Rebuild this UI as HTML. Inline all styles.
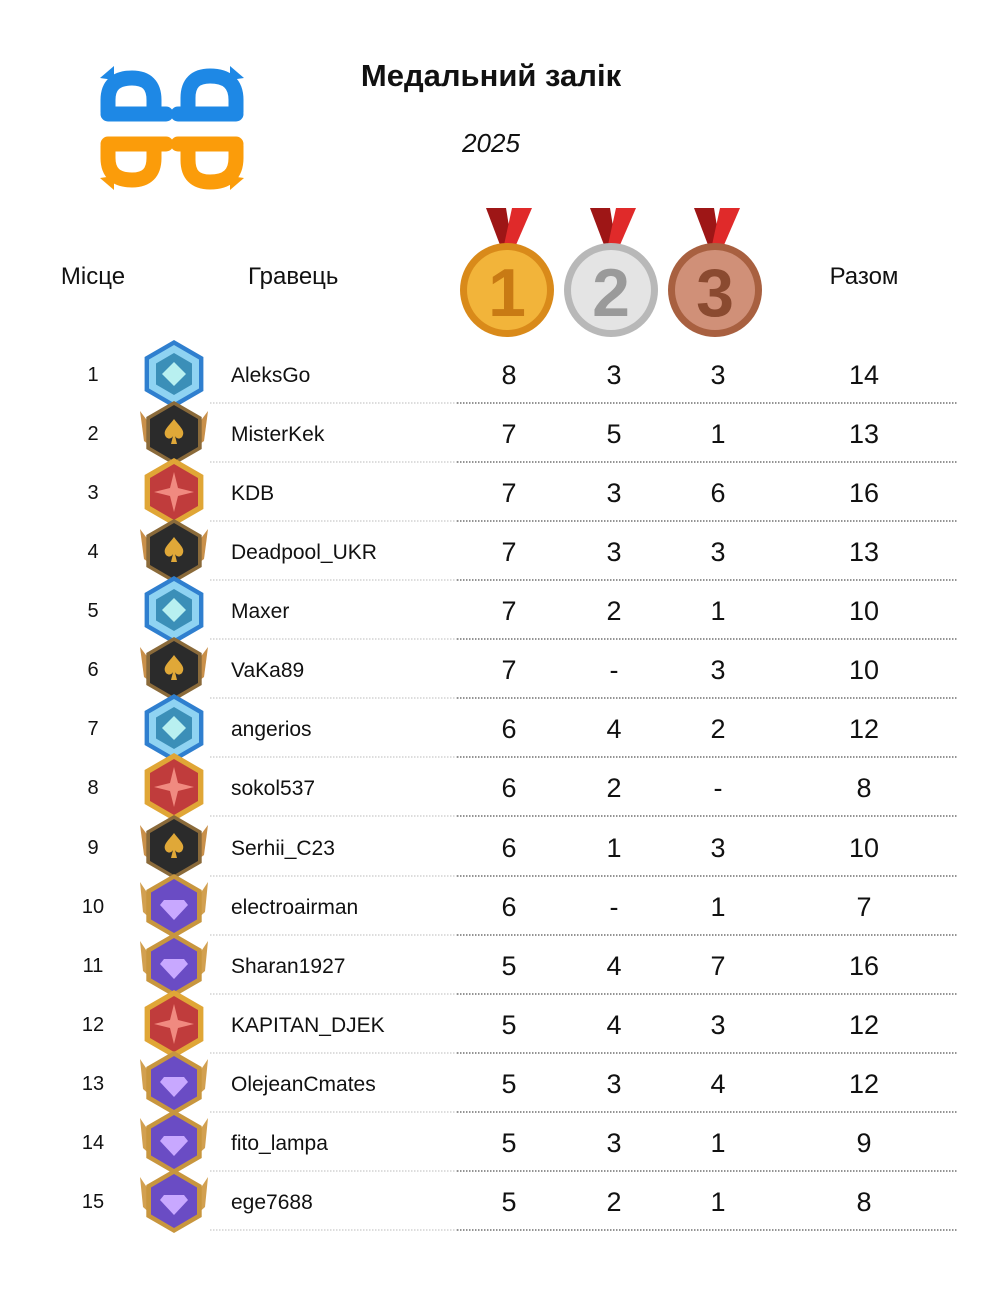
<!DOCTYPE html>
<html><head><meta charset="utf-8"><style>
html,body{margin:0;padding:0;background:#fff;}
svg{display:block;}
text{font-family:"Liberation Sans","DejaVu Sans",sans-serif;fill:#111;}
.r{font-size:20px;text-anchor:middle;}
.n{font-size:21px;}
.v{font-size:27px;text-anchor:middle;}
.l1{stroke:#bbb;stroke-width:1;stroke-dasharray:1.5,1.5;}
.l2{stroke:#555;stroke-width:1.2;stroke-dasharray:1.5,1.5;}
</style></head><body>
<svg width="1000" height="1298" viewBox="0 0 1000 1298" xmlns="http://www.w3.org/2000/svg">
<defs>
<g id="blue">
<polygon points="0,-34 29.4,-17 29.4,17 0,34 -29.4,17 -29.4,-17" fill="#2f7fcf"/>
<polygon points="0,-29 25,-14.5 25,14.5 0,29 -25,14.5 -25,-14.5" fill="#8fd3f2"/>
<polygon points="0,-21 18,-10.5 18,10.5 0,21 -18,10.5 -18,-10.5" fill="#3b8fb8"/>
<polygon points="0,-12 12,0 0,12 -12,0" fill="#b8f0f0"/>
</g>
<g id="black">
<polygon points="-34,-22 -22,-6 -22,14 -30,8" fill="#c9904a"/>
<polygon points="34,-22 22,-6 22,14 30,8" fill="#c9904a"/>
<polygon points="0,-32 27.7,-16 27.7,16 0,32 -27.7,16 -27.7,-16" fill="#8a6a3a"/>
<polygon points="0,-28 24,-14 24,14 0,28 -24,14 -24,-14" fill="#2b2b2b"/>
<path d="M0,-14 C6,-6 12,-2 8,4 C5,7 2,5 1,3 L3,11 L-3,11 L-1,3 C-2,5 -5,7 -8,4 C-12,-2 -6,-6 0,-14Z" fill="#e0a838"/>
</g>
<g id="red">
<polygon points="0,-34 29.4,-17 29.4,17 0,34 -29.4,17 -29.4,-17" fill="#e0a636"/>
<polygon points="0,-28 24,-14 24,14 0,28 -24,14 -24,-14" fill="#c03c3c"/>
<polygon points="0,-20 4,-4 20,0 4,4 0,20 -4,4 -20,0 -4,-4" fill="#f08a80"/>
</g>
<g id="purple">
<polygon points="-34,-24 -22,-6 -22,14 -31,6" fill="#d2a050"/>
<polygon points="34,-24 22,-6 22,14 31,6" fill="#d2a050"/>
<polygon points="0,-32 27.7,-16 27.7,16 0,32 -27.7,16 -27.7,-16" fill="#c8963e"/>
<polygon points="0,-27 23,-13.5 23,13.5 0,27 -23,13.5 -23,-13.5" fill="#6a4cc4"/>
<polygon points="-10,-6 10,-6 14,-1 0,14 -14,-1" fill="#c8a8ff"/>
</g>
</defs>

<!-- logo -->
<g stroke-linecap="round" stroke-linejoin="round" fill="none" stroke-width="15">
<path d="M108,112 L108,100 Q108,78 132,78 Q154,78 154,100 L154,112 M108,114 L166,114" stroke="#1e88e5"/>
<path d="M188,112 L188,98 Q188,76 210,76 Q236,76 236,100 L236,112 M178,114 L236,114" stroke="#1e88e5"/>
<path d="M108,146 L108,158 Q108,180 132,180 Q154,180 154,158 L154,146 M108,144 L166,144" stroke="#fb9c0a"/>
<path d="M188,146 L188,160 Q188,182 210,182 Q236,182 236,158 L236,146 M178,144 L236,144" stroke="#fb9c0a"/>
</g>
<polygon points="100,78 114,66 114,80" fill="#1e88e5"/>
<polygon points="244,78 230,66 230,80" fill="#1e88e5"/>
<polygon points="100,178 114,190 114,176" fill="#fb9c0a"/>
<polygon points="244,178 230,190 230,176" fill="#fb9c0a"/>

<text x="491" y="86" text-anchor="middle" font-size="31" font-weight="bold">Медальний залік</text>
<text x="491" y="152" text-anchor="middle" font-size="26" font-style="italic">2025</text>

<text x="93" y="284" text-anchor="middle" font-size="24">Місце</text>
<text x="248" y="284" font-size="24">Гравець</text>
<text x="864" y="284" text-anchor="middle" font-size="24">Разом</text>

<!-- medals -->
<polygon points="486,208 506,208 512,245 500,245" fill="#9e1616"/><polygon points="512,208 532,208 516,245 504,245" fill="#e02a2a"/>
<circle cx="507" cy="290" r="47" fill="#d98a1a"/><circle cx="507" cy="290" r="40" fill="#f2b43a"/>
<text x="507" y="316" text-anchor="middle" font-size="68" font-weight="bold" style="fill:#c87a14">1</text>
<polygon points="590,208 610,208 616,245 604,245" fill="#9e1616"/><polygon points="616,208 636,208 620,245 608,245" fill="#e02a2a"/>
<circle cx="611" cy="290" r="47" fill="#b8b8b8"/><circle cx="611" cy="290" r="40" fill="#e4e4e4"/>
<text x="611" y="316" text-anchor="middle" font-size="68" font-weight="bold" style="fill:#9a9a9a">2</text>
<polygon points="694,208 714,208 720,245 708,245" fill="#9e1616"/><polygon points="720,208 740,208 724,245 712,245" fill="#e02a2a"/>
<circle cx="715" cy="290" r="47" fill="#a86040"/><circle cx="715" cy="290" r="40" fill="#d09078"/>
<text x="715" y="316" text-anchor="middle" font-size="68" font-weight="bold" style="fill:#8a4a30">3</text>

<g transform="translate(0,374)"><text class="r" x="93" y="7">1</text><use href="#blue" x="174" y="0"/><text class="n" x="231" y="8">AleksGo</text><text class="v" x="509" y="10">8</text><text class="v" x="614" y="10">3</text><text class="v" x="718" y="10">3</text><text class="v" x="864" y="10">14</text><line class="l1" x1="210" y1="29" x2="457" y2="29"/><line class="l2" x1="457" y1="29" x2="957" y2="29"/></g>
<g transform="translate(0,433)"><text class="r" x="93" y="7">2</text><use href="#black" x="174" y="0"/><text class="n" x="231" y="8">MisterKek</text><text class="v" x="509" y="10">7</text><text class="v" x="614" y="10">5</text><text class="v" x="718" y="10">1</text><text class="v" x="864" y="10">13</text><line class="l1" x1="210" y1="29" x2="457" y2="29"/><line class="l2" x1="457" y1="29" x2="957" y2="29"/></g>
<g transform="translate(0,492)"><text class="r" x="93" y="7">3</text><use href="#red" x="174" y="0"/><text class="n" x="231" y="8">KDB</text><text class="v" x="509" y="10">7</text><text class="v" x="614" y="10">3</text><text class="v" x="718" y="10">6</text><text class="v" x="864" y="10">16</text><line class="l1" x1="210" y1="29" x2="457" y2="29"/><line class="l2" x1="457" y1="29" x2="957" y2="29"/></g>
<g transform="translate(0,551)"><text class="r" x="93" y="7">4</text><use href="#black" x="174" y="0"/><text class="n" x="231" y="8">Deadpool_UKR</text><text class="v" x="509" y="10">7</text><text class="v" x="614" y="10">3</text><text class="v" x="718" y="10">3</text><text class="v" x="864" y="10">13</text><line class="l1" x1="210" y1="29" x2="457" y2="29"/><line class="l2" x1="457" y1="29" x2="957" y2="29"/></g>
<g transform="translate(0,610)"><text class="r" x="93" y="7">5</text><use href="#blue" x="174" y="0"/><text class="n" x="231" y="8">Maxer</text><text class="v" x="509" y="10">7</text><text class="v" x="614" y="10">2</text><text class="v" x="718" y="10">1</text><text class="v" x="864" y="10">10</text><line class="l1" x1="210" y1="29" x2="457" y2="29"/><line class="l2" x1="457" y1="29" x2="957" y2="29"/></g>
<g transform="translate(0,669)"><text class="r" x="93" y="7">6</text><use href="#black" x="174" y="0"/><text class="n" x="231" y="8">VaKa89</text><text class="v" x="509" y="10">7</text><text class="v" x="614" y="10">-</text><text class="v" x="718" y="10">3</text><text class="v" x="864" y="10">10</text><line class="l1" x1="210" y1="29" x2="457" y2="29"/><line class="l2" x1="457" y1="29" x2="957" y2="29"/></g>
<g transform="translate(0,728)"><text class="r" x="93" y="7">7</text><use href="#blue" x="174" y="0"/><text class="n" x="231" y="8">angerios</text><text class="v" x="509" y="10">6</text><text class="v" x="614" y="10">4</text><text class="v" x="718" y="10">2</text><text class="v" x="864" y="10">12</text><line class="l1" x1="210" y1="29" x2="457" y2="29"/><line class="l2" x1="457" y1="29" x2="957" y2="29"/></g>
<g transform="translate(0,787)"><text class="r" x="93" y="7">8</text><use href="#red" x="174" y="0"/><text class="n" x="231" y="8">sokol537</text><text class="v" x="509" y="10">6</text><text class="v" x="614" y="10">2</text><text class="v" x="718" y="10">-</text><text class="v" x="864" y="10">8</text><line class="l1" x1="210" y1="29" x2="457" y2="29"/><line class="l2" x1="457" y1="29" x2="957" y2="29"/></g>
<g transform="translate(0,847)"><text class="r" x="93" y="7">9</text><use href="#black" x="174" y="0"/><text class="n" x="231" y="8">Serhii_C23</text><text class="v" x="509" y="10">6</text><text class="v" x="614" y="10">1</text><text class="v" x="718" y="10">3</text><text class="v" x="864" y="10">10</text><line class="l1" x1="210" y1="29" x2="457" y2="29"/><line class="l2" x1="457" y1="29" x2="957" y2="29"/></g>
<g transform="translate(0,906)"><text class="r" x="93" y="7">10</text><use href="#purple" x="174" y="0"/><text class="n" x="231" y="8">electroairman</text><text class="v" x="509" y="10">6</text><text class="v" x="614" y="10">-</text><text class="v" x="718" y="10">1</text><text class="v" x="864" y="10">7</text><line class="l1" x1="210" y1="29" x2="457" y2="29"/><line class="l2" x1="457" y1="29" x2="957" y2="29"/></g>
<g transform="translate(0,965)"><text class="r" x="93" y="7">11</text><use href="#purple" x="174" y="0"/><text class="n" x="231" y="8">Sharan1927</text><text class="v" x="509" y="10">5</text><text class="v" x="614" y="10">4</text><text class="v" x="718" y="10">7</text><text class="v" x="864" y="10">16</text><line class="l1" x1="210" y1="29" x2="457" y2="29"/><line class="l2" x1="457" y1="29" x2="957" y2="29"/></g>
<g transform="translate(0,1024)"><text class="r" x="93" y="7">12</text><use href="#red" x="174" y="0"/><text class="n" x="231" y="8">KAPITAN_DJEK</text><text class="v" x="509" y="10">5</text><text class="v" x="614" y="10">4</text><text class="v" x="718" y="10">3</text><text class="v" x="864" y="10">12</text><line class="l1" x1="210" y1="29" x2="457" y2="29"/><line class="l2" x1="457" y1="29" x2="957" y2="29"/></g>
<g transform="translate(0,1083)"><text class="r" x="93" y="7">13</text><use href="#purple" x="174" y="0"/><text class="n" x="231" y="8">OlejeanCmates</text><text class="v" x="509" y="10">5</text><text class="v" x="614" y="10">3</text><text class="v" x="718" y="10">4</text><text class="v" x="864" y="10">12</text><line class="l1" x1="210" y1="29" x2="457" y2="29"/><line class="l2" x1="457" y1="29" x2="957" y2="29"/></g>
<g transform="translate(0,1142)"><text class="r" x="93" y="7">14</text><use href="#purple" x="174" y="0"/><text class="n" x="231" y="8">fito_lampa</text><text class="v" x="509" y="10">5</text><text class="v" x="614" y="10">3</text><text class="v" x="718" y="10">1</text><text class="v" x="864" y="10">9</text><line class="l1" x1="210" y1="29" x2="457" y2="29"/><line class="l2" x1="457" y1="29" x2="957" y2="29"/></g>
<g transform="translate(0,1201)"><text class="r" x="93" y="7">15</text><use href="#purple" x="174" y="0"/><text class="n" x="231" y="8">ege7688</text><text class="v" x="509" y="10">5</text><text class="v" x="614" y="10">2</text><text class="v" x="718" y="10">1</text><text class="v" x="864" y="10">8</text><line class="l1" x1="210" y1="29" x2="457" y2="29"/><line class="l2" x1="457" y1="29" x2="957" y2="29"/></g>
</svg>
</body></html>
